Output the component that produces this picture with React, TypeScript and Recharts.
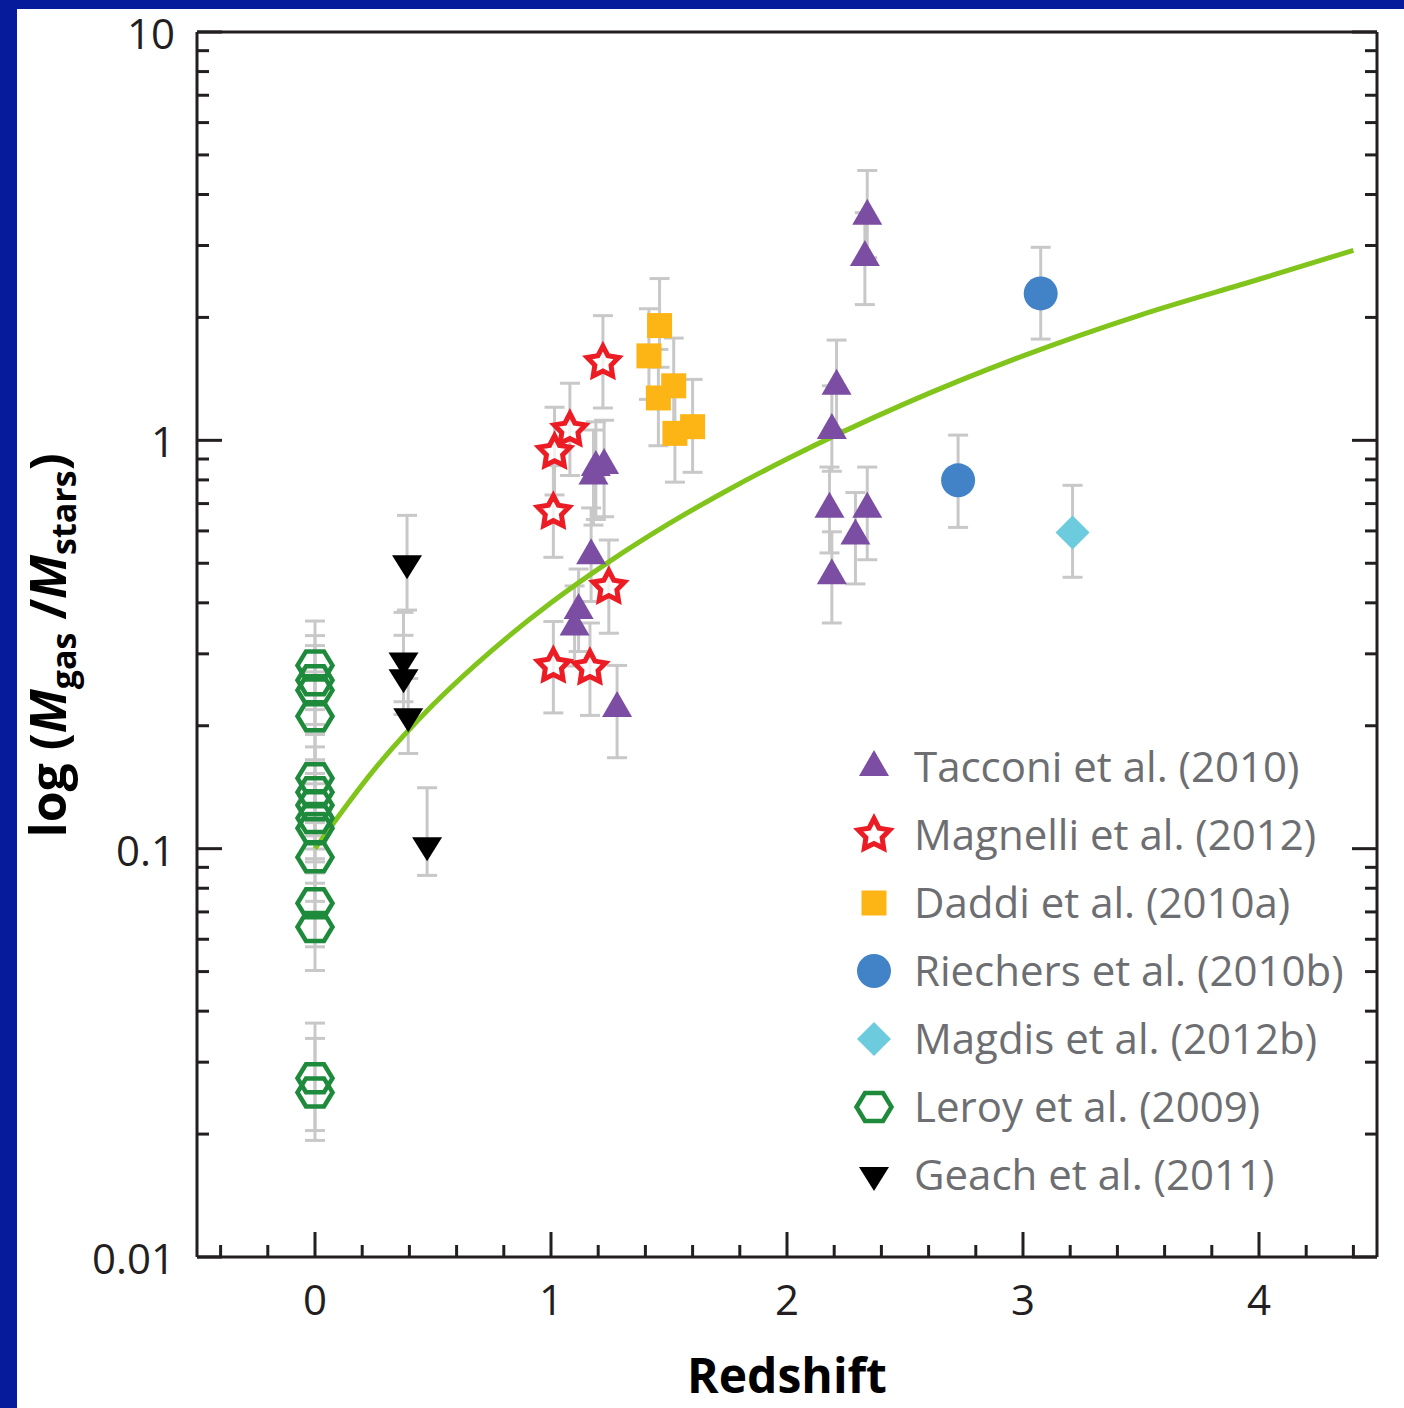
import { ComposedChart, Scatter, Line, XAxis, YAxis, ErrorBar } from "recharts";

type Point = { z: number; ratio: number; err: [number, number] };

// gas-to-stellar mass ratio vs redshift, err = [below, above]
const tacconi: Point[] = [
  { z: 1.19, ratio: 0.86, err: [0.22, 0.25] },
  { z: 1.225, ratio: 0.87, err: [0.22, 0.25] },
  { z: 1.18, ratio: 0.82, err: [0.2, 0.24] },
  { z: 1.17, ratio: 0.523, err: [0.12, 0.16] },
  { z: 1.117, ratio: 0.384, err: [0.08, 0.1] },
  { z: 1.1, ratio: 0.35, err: [0.07, 0.09] },
  { z: 1.28, ratio: 0.221, err: [0.054, 0.06] },
  { z: 2.34, ratio: 3.55, err: [0.75, 1.03] },
  { z: 2.33, ratio: 2.81, err: [0.66, 0.8] },
  { z: 2.21, ratio: 1.36, err: [0.3, 0.4] },
  { z: 2.19, ratio: 1.06, err: [0.22, 0.3] },
  { z: 2.18, ratio: 0.68, err: [0.15, 0.18] },
  { z: 2.34, ratio: 0.68, err: [0.17, 0.18] },
  { z: 2.29, ratio: 0.585, err: [0.14, 0.16] },
  { z: 2.19, ratio: 0.467, err: [0.11, 0.13] },
];

const magnelli: Point[] = [
  { z: 1.22, ratio: 1.55, err: [0.35, 0.47] },
  { z: 1.08, ratio: 1.06, err: [0.24, 0.32] },
  { z: 1.015, ratio: 0.935, err: [0.2, 0.27] },
  { z: 1.01, ratio: 0.667, err: [0.15, 0.2] },
  { z: 1.245, ratio: 0.437, err: [0.1, 0.133] },
  { z: 1.01, ratio: 0.28, err: [0.065, 0.08] },
  { z: 1.165, ratio: 0.277, err: [0.065, 0.08] },
];

const daddi: Point[] = [
  { z: 1.46, ratio: 1.91, err: [0.4, 0.58] },
  { z: 1.415, ratio: 1.61, err: [0.35, 0.49] },
  { z: 1.52, ratio: 1.36, err: [0.3, 0.42] },
  { z: 1.455, ratio: 1.27, err: [0.3, 0.4] },
  { z: 1.525, ratio: 1.04, err: [0.25, 0.3] },
  { z: 1.6, ratio: 1.08, err: [0.245, 0.33] },
];

const riechers: Point[] = [
  { z: 3.075, ratio: 2.29, err: [0.52, 0.68] },
  { z: 2.725, ratio: 0.798, err: [0.186, 0.232] },
];

const magdis: Point[] = [{ z: 3.21, ratio: 0.595, err: [0.133, 0.181] }];

const leroy: Point[] = [
  { z: 0, ratio: 0.281, err: [0.062, 0.08] },
  { z: 0, ratio: 0.2585, err: [0.057, 0.074] },
  { z: 0, ratio: 0.2443, err: [0.054, 0.07] },
  { z: 0, ratio: 0.211, err: [0.046, 0.06] },
  { z: 0, ratio: 0.1488, err: [0.033, 0.043] },
  { z: 0, ratio: 0.1375, err: [0.03, 0.04] },
  { z: 0, ratio: 0.1278, err: [0.028, 0.037] },
  { z: 0, ratio: 0.1188, err: [0.026, 0.034] },
  { z: 0, ratio: 0.1122, err: [0.025, 0.032] },
  { z: 0, ratio: 0.0953, err: [0.021, 0.027] },
  { z: 0, ratio: 0.0735, err: [0.016, 0.021] },
  { z: 0, ratio: 0.0643, err: [0.014, 0.018] },
  { z: 0, ratio: 0.0274, err: [0.007, 0.01] },
  { z: 0, ratio: 0.0253, err: [0.006, 0.009] },
];

const geach: Point[] = [
  { z: 0.39, ratio: 0.5, err: [0.116, 0.155] },
  { z: 0.375, ratio: 0.289, err: [0.06, 0.09] },
  { z: 0.375, ratio: 0.263, err: [0.05, 0.07] },
  { z: 0.395, ratio: 0.211, err: [0.04, 0.05] },
  { z: 0.475, ratio: 0.102, err: [0.016, 0.039] },
];

// fitted trend
const trend = [
  { z: 0, ratio: 0.1 },
  { z: 0.25, ratio: 0.156 },
  { z: 0.5, ratio: 0.225 },
  { z: 0.75, ratio: 0.306 },
  { z: 1.0, ratio: 0.4 },
  { z: 1.25, ratio: 0.506 },
  { z: 1.5, ratio: 0.625 },
  { z: 1.75, ratio: 0.756 },
  { z: 2.0, ratio: 0.9 },
  { z: 2.5, ratio: 1.23 },
  { z: 3.0, ratio: 1.61 },
  { z: 3.5, ratio: 2.03 },
  { z: 4.0, ratio: 2.48 },
  { z: 4.4, ratio: 2.92 },
];

const xTicks = [
  -0.4, -0.2, 0, 0.2, 0.4, 0.6, 0.8, 1, 1.2, 1.4, 1.6, 1.8, 2, 2.2, 2.4, 2.6, 2.8, 3, 3.2, 3.4, 3.6,
  3.8, 4, 4.2, 4.4,
];
const xLabels = [0, 1, 2, 3, 4];
const yTicks = [
  0.01, 0.02, 0.03, 0.04, 0.05, 0.06, 0.07, 0.08, 0.09, 0.1, 0.2, 0.3, 0.4, 0.5, 0.6, 0.7, 0.8, 0.9, 1,
  2, 3, 4, 5, 6, 7, 8, 9, 10,
];
const yLabels = [0.01, 0.1, 1, 10];

const FRAME = "#061a9c";
const AXIS = "#231f20";
const ERR = "#c8c8c8";
const PURPLE = "#7b4ea3";
const RED = "#ec1c24";
const ORANGE = "#fdb515";
const BLUE = "#4282c6";
const CYAN = "#6ccbdc";
const GREEN = "#1e8a3c";
const TREND = "#80c41c";
const LEGEND_TEXT = "#6d6e71";
const FONT = "'Open Sans', 'DejaVu Sans', sans-serif";

type SP = { cx?: number; cy?: number };

const TriangleUp = ({ cx = 0, cy = 0 }: SP) => (
  <polygon points={`${cx},${cy - 17} ${cx - 15},${cy + 9} ${cx + 15},${cy + 9}`} fill={PURPLE} />
);

const TriangleDown = ({ cx = 0, cy = 0 }: SP) => (
  <polygon points={`${cx - 15},${cy - 8} ${cx + 15},${cy - 8} ${cx},${cy + 16}`} fill="#000" />
);

const Star = ({ cx = 0, cy = 0 }: SP) => {
  const pts: string[] = [];
  for (let i = 0; i < 10; i++) {
    const r = i % 2 === 0 ? 16.5 : 8.5;
    const a = -Math.PI / 2 + (i * Math.PI) / 5;
    pts.push(`${cx + r * Math.cos(a)},${cy + r * Math.sin(a)}`);
  }
  return (
    <polygon
      points={pts.join(" ")}
      fill="#fff"
      fillOpacity={0.75}
      stroke={RED}
      strokeWidth={5}
      strokeLinejoin="miter"
    />
  );
};

const Square = ({ cx = 0, cy = 0 }: SP) => (
  <rect x={cx - 12.5} y={cy - 12.5} width={25} height={25} fill={ORANGE} />
);

const Dot = ({ cx = 0, cy = 0 }: SP) => <circle cx={cx} cy={cy} r={17} fill={BLUE} />;

const Diamond = ({ cx = 0, cy = 0 }: SP) => (
  <polygon points={`${cx},${cy - 17} ${cx + 17},${cy} ${cx},${cy + 17} ${cx - 17},${cy}`} fill={CYAN} />
);

const Hexagon = ({ cx = 0, cy = 0 }: SP) => (
  <polygon
    points={`${cx - 17.5},${cy} ${cx - 9},${cy - 14} ${cx + 9},${cy - 14} ${cx + 17.5},${cy} ${cx + 9},${cy + 14} ${cx - 9},${cy + 14}`}
    fill="none"
    stroke={GREEN}
    strokeWidth={4.5}
  />
);

const series = [
  { name: "Tacconi et al. (2010)", data: tacconi, Shape: TriangleUp },
  { name: "Magnelli et al. (2012)", data: magnelli, Shape: Star },
  { name: "Daddi et al. (2010a)", data: daddi, Shape: Square },
  { name: "Riechers et al. (2010b)", data: riechers, Shape: Dot },
  { name: "Magdis et al. (2012b)", data: magdis, Shape: Diamond },
  { name: "Leroy et al. (2009)", data: leroy, Shape: Hexagon },
  { name: "Geach et al. (2011)", data: geach, Shape: TriangleDown },
];

// inward ticks; with tickSize 0 the tick props sit on the axis line
const BottomTick = ({ x, y, payload }: any) => {
  const major = xLabels.includes(payload.value);
  return (
    <g>
      <line x1={x} x2={x} y1={y} y2={y - (major ? 25 : 12)} stroke={AXIS} strokeWidth={3} />
      {major && (
        <text x={x} y={y + 58} textAnchor="middle" fontFamily={FONT} fontSize={42} fill={AXIS}>
          {payload.value}
        </text>
      )}
    </g>
  );
};

const TopTick = ({ x, y, payload }: any) => {
  const major = xLabels.includes(payload.value);
  return <line x1={x} x2={x} y1={y} y2={y + (major ? 25 : 12)} stroke={AXIS} strokeWidth={3} />;
};

const LeftTick = ({ x, y, payload }: any) => {
  const major = yLabels.includes(payload.value);
  return (
    <g>
      <line x1={x} x2={x + (major ? 25 : 12)} y1={y} y2={y} stroke={AXIS} strokeWidth={3} />
      {major && (
        <text x={x - 22} y={y + 17} textAnchor="end" fontFamily={FONT} fontSize={42} fill={AXIS}>
          {String(payload.value)}
        </text>
      )}
    </g>
  );
};

const RightTick = ({ x, y, payload }: any) => {
  const major = yLabels.includes(payload.value);
  return <line x1={x} x2={x - (major ? 25 : 12)} y1={y} y2={y} stroke={AXIS} strokeWidth={3} />;
};

const YTitle = (props: any) => {
  const vb = props.viewBox ?? { x: 0, y: 32, width: 197, height: 1225 };
  return (
    <text
      transform={`translate(${vb.x + 66},${vb.y + vb.height / 2 + 1}) rotate(-90)`}
      textAnchor="middle"
      fontFamily={FONT}
      fontWeight="bold"
      fontSize={50}
      fill="#000"
    >
      log (<tspan fontStyle="italic">M</tspan>
      <tspan fontSize={34} dy={10}>
        gas
      </tspan>
      <tspan dy={-10}> /</tspan>
      <tspan fontStyle="italic">M</tspan>
      <tspan fontSize={34} dy={10}>
        stars
      </tspan>
      <tspan dy={-10}>)</tspan>
    </text>
  );
};

const XTitle = (props: any) => {
  const vb = props.viewBox ?? { x: 197, y: 1257, width: 1180, height: 151 };
  return (
    <text
      x={vb.x + vb.width / 2}
      y={vb.y + 136}
      textAnchor="middle"
      fontFamily={FONT}
      fontWeight="bold"
      fontSize={48}
      fill="#000"
    >
      Redshift
    </text>
  );
};

function SeriesLegend() {
  return (
    <svg
      width={540}
      height={480}
      style={{ position: "absolute", left: 840, top: 730 }}
    >
      {series.map(({ name, Shape }, i) => {
        const base = 52 + i * 68;
        return (
          <g key={name}>
            <Shape cx={34} cy={base - 15} />
            <text x={74} y={base} fontFamily={FONT} fontSize={42} fill={LEGEND_TEXT}>
              {name}
            </text>
          </g>
        );
      })}
    </svg>
  );
}

export default function App() {
  return (
    <div
      style={{
        position: "absolute",
        left: 0,
        top: 0,
        width: 1404,
        height: 1408,
        background: FRAME,
        overflow: "hidden",
      }}
    >
      <div style={{ position: "absolute", left: 17, top: 9, right: 0, bottom: 0, background: "#fff" }} />
      <div style={{ position: "absolute", left: 0, top: 0 }}>
        <ComposedChart width={1404} height={1408} margin={{ top: 31, right: 26, bottom: 0, left: 0 }}>
          <XAxis
            dataKey="z"
            type="number"
            domain={[-0.5, 4.5]}
            allowDataOverflow
            ticks={xTicks}
            interval={0}
            height={151}
            tickSize={0}
            tickMargin={0}
            tickLine={false}
            tick={<BottomTick />}
            axisLine={{ stroke: AXIS, strokeWidth: 3 }}
            label={<XTitle />}
          />
          <XAxis
            xAxisId="top"
            orientation="top"
            type="number"
            domain={[-0.5, 4.5]}
            allowDataOverflow
            ticks={xTicks}
            interval={0}
            height={1}
            tickSize={0}
            tickMargin={0}
            tickLine={false}
            tick={<TopTick />}
            axisLine={{ stroke: AXIS, strokeWidth: 3 }}
          />
          <YAxis
            dataKey="ratio"
            type="number"
            scale="log"
            domain={[0.01, 10]}
            allowDataOverflow
            ticks={yTicks}
            interval={0}
            width={197}
            tickSize={0}
            tickMargin={0}
            tickLine={false}
            tick={<LeftTick />}
            axisLine={{ stroke: AXIS, strokeWidth: 3 }}
            label={<YTitle />}
          />
          <YAxis
            yAxisId="right"
            orientation="right"
            type="number"
            scale="log"
            domain={[0.01, 10]}
            allowDataOverflow
            ticks={yTicks}
            interval={0}
            width={1}
            tickSize={0}
            tickMargin={0}
            tickLine={false}
            tick={<RightTick />}
            axisLine={{ stroke: AXIS, strokeWidth: 3 }}
          />

          {/* error bars sit underneath everything else */}
          {series.map(({ name, data }) => (
            <Scatter key={`err-${name}`} data={data} shape={() => <g />} isAnimationActive={false}>
              <ErrorBar dataKey="err" direction="y" width={10} stroke={ERR} strokeWidth={3} />
            </Scatter>
          ))}

          <Line
            data={trend}
            dataKey="ratio"
            type="monotone"
            stroke={TREND}
            strokeWidth={5}
            dot={false}
            activeDot={false}
            isAnimationActive={false}
          />

          {series.map(({ name, data, Shape }) => (
            <Scatter
              key={name}
              name={name}
              data={data}
              shape={(p: any) => <Shape cx={p.cx} cy={p.cy} />}
              isAnimationActive={false}
            />
          ))}
        </ComposedChart>
      </div>
      <SeriesLegend />
    </div>
  );
}
